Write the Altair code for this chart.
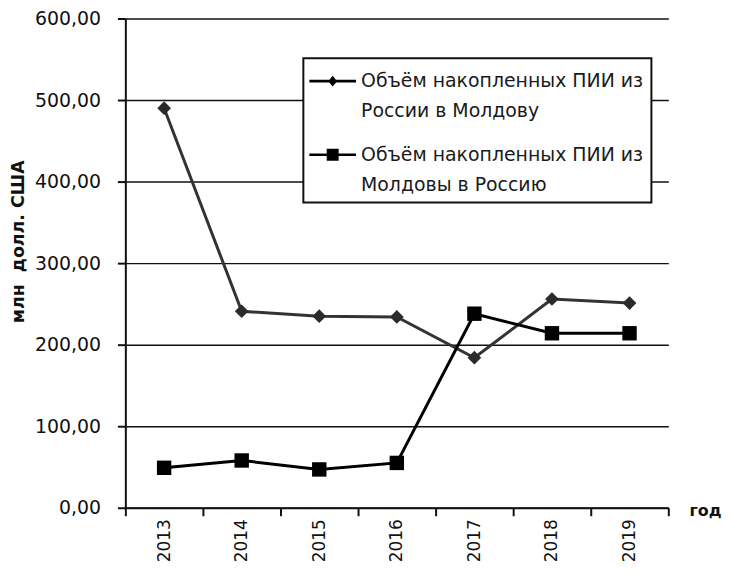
import altair as alt
import pandas as pd

years = ["2013", "2014", "2015", "2016", "2017", "2018", "2019"]
russia_to_moldova = [490, 241, 235, 234, 184, 256, 251]
moldova_to_russia = [49, 58, 47, 55, 238, 214, 214]
series_names = [
    "Объём накопленных ПИИ из|России в Молдову",
    "Объём накопленных ПИИ из|Молдовы в Россию",
]
series_colors = ["#333333", "#000000"]
y_ticks = [0, 100, 200, 300, 400, 500, 600]

rows = []
for yr, a, b in zip(years, russia_to_moldova, moldova_to_russia):
    rows.append({"year": yr, "value": a, "series": series_names[0]})
    rows.append({"year": yr, "value": b, "series": series_names[1]})
df = pd.DataFrame(rows)

FONT = "DejaVu Sans"

x_enc = alt.X(
    "year:O",
    bandPosition=0.5,
    scale=alt.Scale(type="band", paddingInner=0, paddingOuter=0),
    axis=alt.Axis(
        title="год",
        tickBand="extent",
        labelAngle=-90,
        labelPadding=3,
        labelFontSize=17,
        labelFont=FONT,
        labelColor="#111111",
        tickSize=8,
        tickColor="#111111",
        tickWidth=2,
        domainColor="#111111",
        domainWidth=2,
        grid=False,
        titleFont=FONT,
        titleFontSize=16,
        titleFontWeight="bold",
        titleColor="#111111",
        titleX=583,
        titleY=3,
        titleAlign="center",
        titleBaseline="middle",
        titleAngle=0,
    ),
)
y_enc = alt.Y(
    "value:Q",
    scale=alt.Scale(domain=[0, 600], nice=False, zero=True),
    axis=alt.Axis(
        values=y_ticks,
        labelExpr="replace(format(datum.value, '.2f'), '.', ',')",
        labelFontSize=19,
        labelFont=FONT,
        labelColor="#111111",
        labelPadding=17,
        tickSize=8,
        tickColor="#111111",
        tickWidth=2,
        domainColor="#111111",
        domainWidth=2,
        grid=True,
        gridColor="#111111",
        gridWidth=1.5,
        title="млн\u00a0 долл. США",
        titleFont=FONT,
        titleFontSize=17.5,
        titleFontWeight="bold",
        titleColor="#111111",
        titleX=-107,
        titleY=224,
        titleAlign="center",
        titleBaseline="middle",
        titleAngle=-90,
    ),
)

base = alt.Chart(df).encode(x=x_enc, y=y_enc)

line1 = base.transform_filter(alt.datum.series == series_names[0]).mark_line(
    strokeWidth=3, color=series_colors[0]
)
line2 = base.transform_filter(alt.datum.series == series_names[1]).mark_line(
    strokeWidth=3, color=series_colors[1]
)

diamonds = base.transform_filter(
    alt.datum.series == series_names[0]
).mark_point(shape="diamond", filled=True, size=190, color="#2a2a2a", opacity=1)

squares = base.transform_filter(
    alt.datum.series == series_names[1]
).mark_point(shape="square", filled=True, size=210, color="#000000", opacity=1)

# legend symbols: a short line with the series marker on it
bar_part = "M-1.133,-0.09L2,-0.09L2,0.09L-1.133,0.09Z"
diamond_path = bar_part + "M0.433,-0.367L0.733,0L0.433,0.367L0.133,0Z"
square_path = bar_part + "M0.033,-0.4L0.833,-0.4L0.833,0.4L0.033,0.4Z"

# layer without drawn marks that only carries the legend
legend_layer = base.transform_filter("datum.value < 0").mark_point(
    filled=True, color="#000000", opacity=1
).encode(
    shape=alt.Shape(
        "series:N",
        scale=alt.Scale(domain=series_names, range=[diamond_path, square_path]),
        legend=alt.Legend(
            title=None,
            orient="none",
            legendX=179,
            legendY=40,
            fillColor="white",
            strokeColor="#111111",
            padding=8,
            symbolSize=900,
            symbolOpacity=1,
            symbolStrokeColor="#000000",
            symbolFillColor="#000000",
            symbolStrokeWidth=0,
            labelOffset=20,
            labelFont=FONT,
            labelFontSize=19,
            labelColor="#1a1a1a",
            labelLimit=500,
            labelExpr="split(datum.label, '|')",
            rowPadding=19,
        ),
    )
)

chart = (
    alt.layer(line1, line2, diamonds, squares, legend_layer)
    .properties(
        width=546,
        height=492,
        autosize=alt.AutoSizeParams(type="none"),
        padding={"left": 118, "top": 9, "right": 56, "bottom": 56},
    )
    .configure(font=FONT, style={"guide-label": {"lineHeight": 30}})
    .configure_view(stroke=None)
    .configure_legend(strokeWidth=2, cornerRadius=0)
)

chart.save("out.html", embed_options={"renderer": "svg", "actions": False})
